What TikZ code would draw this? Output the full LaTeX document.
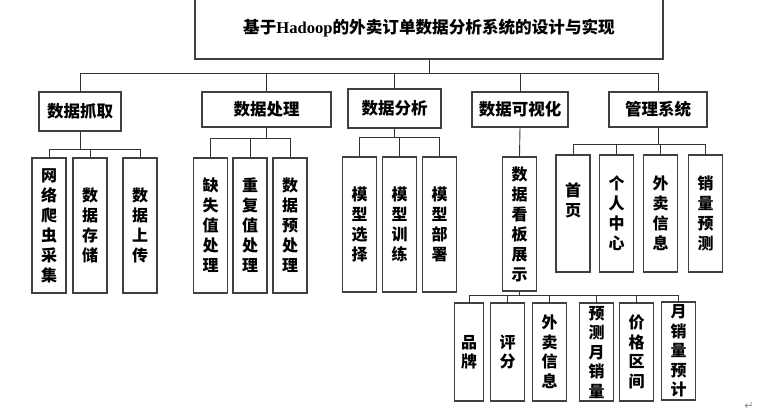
\documentclass[tikz,border=0pt]{standalone}
\usepackage{fontspec}
\setmainfont{Liberation Serif}
\newfontfamily\cjk{Noto Sans CJK SC}
\newfontfamily\symfont{DejaVu Sans}

\begin{document}
\begin{tikzpicture}[x=1pt, y=-1pt,
    every node/.style={draw=black!75, line width=1.3pt, inner sep=0pt},
    titlebox/.style={minimum width=468, minimum height=62, font=\cjk\bfseries\fontsize{16.6}{18}\selectfont},
    head/.style={minimum height=35, font=\cjk\bfseries\fontsize{16.5}{20}\selectfont},
    vtext/.style={draw=none, align=center, font=\cjk\bfseries\fontsize{16}{20}\selectfont},
    leaf/.style={vtext, draw=black!75, minimum width=34, minimum height=135},
    short/.style={leaf, minimum height=98, font=\cjk\bfseries\fontsize{16}{19.5}\selectfont},
    link/.style={draw=black!80, line width=0.9pt}]
    \useasboundingbox (0,0) rectangle (782,415);

    %---------------- Top ----------------%
    \node[titlebox] (title) at (429,28) {基于{\rmfamily\bfseries Hadoop}的外卖订单数据分析系统的设计与实现};

    %---------------- Modules ----------------%
    \node[head, minimum width=82, minimum height=39] (grab) at (80,111.5) {数据抓取};
    \node[head, minimum width=129] (proc) at (266.5,109.5) {数据处理};
    \node[head, minimum width=93, minimum height=39] (anal) at (394.5,108.5) {数据分析};
    \node[head, minimum width=96] (vis) at (520,109.5) {数据可视化};
    \node[head, minimum width=98] (mgmt) at (658,109.5) {管理系统};
    \foreach \c in {grab,proc,anal,vis,mgmt}
        \draw[link] (title.south) -- ++(0,14) -| (\c.north);

    %---------------- 数据抓取 ----------------%
    \node[leaf] (g1) at (49,225.5) {网\\络\\爬\\虫\\采\\集};
    \node[leaf] (g2) at (90,225.5) {数\\据\\存\\储};
    \node[leaf] (g3) at (140,225.5) {数\\据\\上\\传};
    \foreach \c in {g1,g2,g3}
        \draw[link] (grab.south) -- ++(0,18) -| (\c.north);

    %---------------- 数据处理 ----------------%
    \node[leaf] (p1) at (210.5,225.5) {缺\\失\\值\\处\\理};
    \node[leaf] (p2) at (250,225.5) {重\\复\\值\\处\\理};
    \node[leaf] (p3) at (290,225.5) {数\\据\\预\\处\\理};
    \foreach \c in {p1,p2,p3}
        \draw[link] (proc.south) -- ++(0,11) -| (\c.north);

    %---------------- 数据分析 ----------------%
    \node[leaf] (a1) at (359.5,224.5) {模\\型\\选\\择};
    \node[leaf] (a2) at (399.5,224.5) {模\\型\\训\\练};
    \node[leaf] (a3) at (439.5,224.5) {模\\型\\部\\署};
    \foreach \c in {a1,a2,a3}
        \draw[link] (anal.south) -- ++(0,9) -| (\c.north);

    %---------------- 数据可视化 ----------------%
    \node[leaf, minimum height=134] (v1) at (519.5,224) {数\\据\\看\\板\\展\\示};
    \draw[link] (vis.south) -- (v1.north);
    \node[short, minimum width=29] (b1) at (469,352) {品\\牌};
    \node[short] (b2) at (507.5,352) {评\\分};
    \node[short] (b3) at (549.5,352) {外\\卖\\信\\息};
    \node[short] (b4) at (596.5,352) {预\\测\\月\\销\\量};
    \node[short] (b5) at (636.5,352) {价\\格\\区\\间};
    \node[short] (b6) at (678.5,351) {月\\销\\量\\预\\计};
    \foreach \c in {b1,b2,b3,b4,b5,b6}
        \draw[link] (v1.south) -- ++(0,4) -| (\c.north);

    %---------------- 管理系统 ----------------%
    \node[leaf, minimum height=117, label={[vtext, yshift=13.5]center:首\\页}] (m1) at (573,213.5) {};
    \node[leaf, minimum height=117] (m2) at (616.5,213.5) {个\\人\\中\\心};
    \node[leaf, minimum height=117] (m3) at (660.5,213.5) {外\\卖\\信\\息};
    \node[leaf, minimum height=117] (m4) at (705.5,213.5) {销\\量\\预\\测};
    \foreach \c in {m1,m2,m3,m4}
        \draw[link] (mgmt.south) -- ++(0,17) -| (\c.north);

    \node[draw=none, text=black!45, font=\symfont\fontsize{11}{12}\selectfont] (mark) at (749,406) {↵};
\end{tikzpicture}
\end{document}
